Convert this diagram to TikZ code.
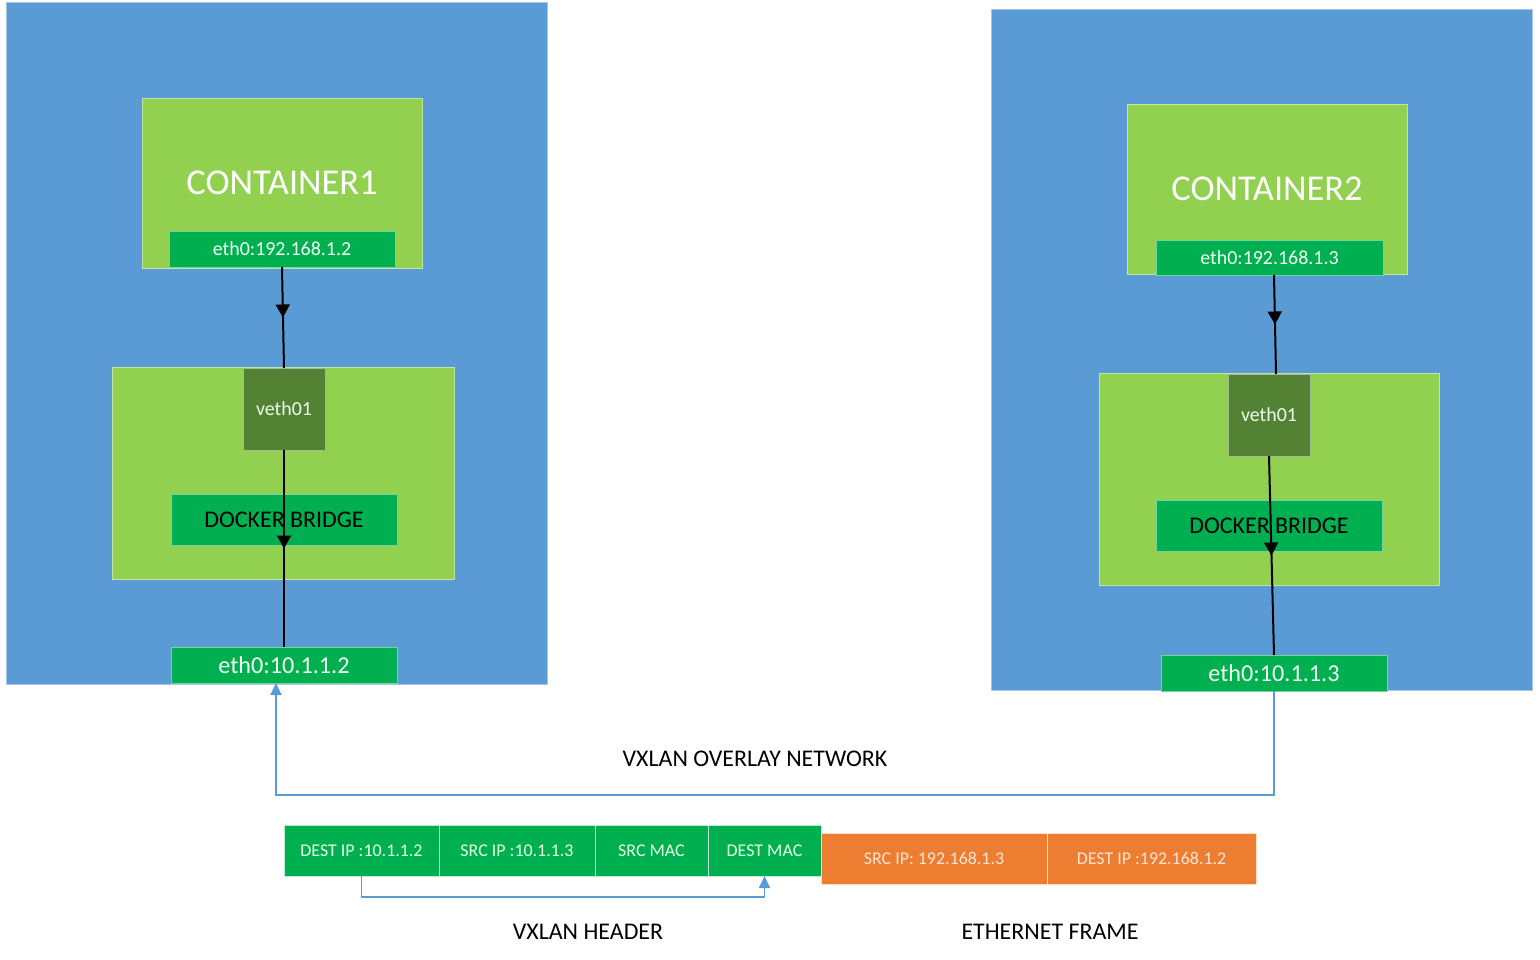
\documentclass[tikz,border=0pt]{standalone}
\usepackage{fontspec}
\setmainfont{Carlito}
\usetikzlibrary{positioning,arrows.meta,decorations.markings}

\definecolor{hostblue}{HTML}{5B9BD5}
\definecolor{limegreen}{HTML}{92D050}
\definecolor{boxgreen}{HTML}{00B050}
\definecolor{vethgreen}{HTML}{548235}
\definecolor{frameorange}{HTML}{ED7D31}
\definecolor{linkblue}{HTML}{5B9BD5}

\newcommand{\titlefs}{\fontsize{36.5}{42}\selectfont}
\newcommand{\ethfs}{\fontsize{20}{24}\selectfont}
\newcommand{\hostethfs}{\fontsize{24.3}{29}\selectfont}
\newcommand{\bridgefs}{\fontsize{24}{29}\selectfont}
\newcommand{\fieldfs}{\fontsize{18}{22}\selectfont}
\newcommand{\capfs}{\fontsize{24}{29}\selectfont}

\tikzset{
  size/.style 2 args={minimum width=#1bp, minimum height=#2bp},
  host/.style={rectangle, inner sep=0pt, outer sep=0pt, fill=hostblue, draw=hostblue!55!white, line width=1bp},
  container/.style={rectangle, inner sep=0pt, outer sep=0pt, fill=limegreen, draw=limegreen!55!white, line width=1bp, text=white, font=\titlefs},
  iface/.style={rectangle, inner sep=0pt, outer sep=0pt, fill=boxgreen, draw=boxgreen!55!white, line width=1bp, text=white!95!green},
  veth/.style={rectangle, inner sep=0pt, outer sep=0pt, fill=vethgreen, draw=vethgreen!55!white, line width=1bp, text=white!92!green, font=\ethfs},
  field/.style={rectangle, inner sep=0pt, outer sep=0pt, fill=boxgreen, draw=white!75!boxgreen, line width=0.8bp, text=white!90!green, font=\fieldfs, minimum height=51bp},
  ofield/.style={field, fill=frameorange, draw=white!75!frameorange, text=white!80!frameorange},
  midarrow/.style={line width=2bp, black,
    postaction={decorate, decoration={markings,
      mark=at position 0.5 with {\arrow{Triangle[length=13bp,width=14bp]}}}}},
  bluelink/.style={line width=1.8bp, linkblue, -{Triangle[length=12bp,width=11bp]}},
  caption/.style={font=\capfs, text=black}
}

\begin{document}
\begin{tikzpicture}[x=1bp, y=-1bp]
    \useasboundingbox (0,0) rectangle (1540,959);

    % Hosts
    \node[host, size={540}{681}] (host1) at (277,343.5) {};
    \node[host, size={541}{680}] (host2) at (1261.5,350) {};

    % Containers
    \node[container, size={280}{170}] (cont1) at (282,183) {CONTAINER1};
    \node[iface, size={226}{36}, font=\ethfs] (ceth1) at (282,249) {eth0:192.168.1.2};
    \node[container, size={280}{170}] (cont2) at (1267,189) {CONTAINER2};
    \node[iface, size={227}{35}, font=\ethfs] (ceth2) at (1269.5,257.5) {eth0:192.168.1.3};

    % Bridges
    \node[container, size={341}{212}] (bridge1) at (283.5,473) {};
    \node[veth, size={82}{82}] (veth1) at (284,409) {veth01};
    \node[iface, size={226}{51}, font=\bridgefs, text=black] (dbr1) at (284,519.5) {DOCKER BRIDGE};
    \node[container, size={340}{212}] (bridge2) at (1269,479) {};
    \node[veth, size={82}{82}] (veth2) at (1269,415) {veth01};
    \node[iface, size={226}{51}, font=\bridgefs, text=black] (dbr2) at (1269,525.5) {DOCKER BRIDGE};

    % Host interfaces
    \node[iface, size={226}{36}, font=\hostethfs] (heth1) at (284,665) {eth0:10.1.1.2};
    \node[iface, size={226}{36}, font=\hostethfs] (heth2) at (1274,673) {eth0:10.1.1.3};

    % Paths inside the hosts
    \draw[midarrow] (ceth1.south) -- (veth1.north);
    \draw[midarrow] (veth1.south) -- (heth1.north);
    \draw[midarrow] ([xshift=4.5bp]ceth2.south) -- ([xshift=7bp]veth2.north);
    \draw[midarrow] (veth2.south) -- (heth2.north);

    % Overlay link
    \coordinate (busR) at (1274,795);
    \coordinate (busL) at (276,795);
    \draw[bluelink] (heth2.south) -- (busR) -- (busL) -- ([xshift=-8bp]heth1.south);
    \node[caption] (ovlabel) at (755,759) {VXLAN OVERLAY NETWORK};

    % Packet
    \node[field, minimum width=155bp] (f1) at (361.5,850.5) {DEST IP :10.1.1.2};
    \node[field, minimum width=156bp, right=0bp of f1] (f2) {SRC IP :10.1.1.3};
    \node[field, minimum width=113bp, right=0bp of f2] (f3) {SRC MAC};
    \node[field, minimum width=113bp, right=0bp of f3] (f4) {DEST MAC};
    \node[ofield, minimum width=226bp, anchor=north west] (o1) at ([yshift=-8bp]f4.north east) {SRC IP: 192.168.1.3};
    \node[ofield, minimum width=209bp, right=0bp of o1] (o2) {DEST IP :192.168.1.2};

    \draw[bluelink] (f1.south) -- ++(0,21) -| (f4.south);

    \node[caption] (hdrlabel) at (588,932) {VXLAN HEADER};
    \node[caption] (ethlabel) at (1050,932) {ETHERNET FRAME};
\end{tikzpicture}
\end{document}
